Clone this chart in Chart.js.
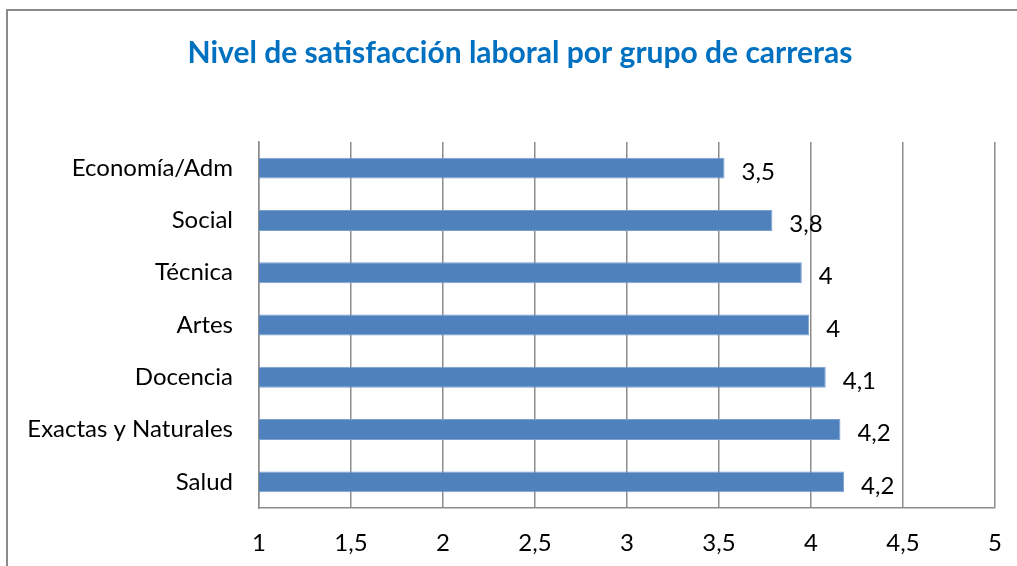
<!DOCTYPE html>
<html><head><meta charset="utf-8">
<script src="https://cdn.jsdelivr.net/npm/chart.js@4/dist/chart.umd.min.js"></script>
<style>
html,body{margin:0;padding:0;background:#fff;overflow:hidden;width:1017px;height:566px;}
#frame{position:absolute;left:6px;top:9px;width:1100px;height:700px;border:2px solid #8a8a8a;box-sizing:border-box;}
#wrap{position:absolute;left:0;top:0;width:1017px;height:566px;}
</style></head>
<body>
<div id="frame"></div>
<div id="wrap"><canvas id="c" width="1017" height="566"></canvas></div>
<script>
const categories = ["Economía/Adm","Social","Técnica","Artes","Docencia","Exactas y Naturales","Salud"];
const values = [3.53, 3.79, 3.95, 3.99, 4.08, 4.16, 4.18];
const valueLabels = ["3,5","3,8","4","4","4,1","4,2","4,2"];
const tickValues = [1,1.5,2,2.5,3,3.5,4,4.5,5];
const titleText = "Nivel de satisfacción laboral por grupo de carreras";

const labelPlugin = {
  id:'valLabels',
  afterDatasetsDraw(chart){
    const ctx = chart.ctx;
    const meta = chart.getDatasetMeta(0);
    ctx.save();
    ctx.font = '24px Lato';
    ctx.fillStyle = '#000';
    ctx.textAlign = 'left';
    ctx.textBaseline = 'middle';
    meta.data.forEach((bar,i)=>{
      ctx.fillText(valueLabels[i], bar.x + 17, bar.y + 4);
    });
    ctx.restore();
  }
};
const titlePlugin = {
  id:'offTitle',
  afterDraw(chart){
    const ctx = chart.ctx;
    ctx.save();
    ctx.font = 'bold 30px Lato';
    ctx.fillStyle = '#0070C0';
    ctx.textAlign = 'center';
    ctx.textBaseline = 'middle';
    ctx.fillText(titleText, 520, 53);
    ctx.restore();
  }
};

new Chart(document.getElementById('c'), {
  type:'bar',
  data:{labels:categories, datasets:[{data:values, backgroundColor:'#4F81BD', borderColor:'#7aa0d0', borderWidth:1, borderSkipped:'left', barPercentage:0.8, categoryPercentage:0.5}]},
  plugins:[labelPlugin, titlePlugin],
  options:{
    indexAxis:'y', responsive:false, animation:false, devicePixelRatio:1,
    layout:{padding:{left:0,right:22,top:142,bottom:0}},
    plugins:{ legend:{display:false}, tooltip:{enabled:false}, title:{display:false} },
    scales:{
      x:{min:1,max:5,
        afterBuildTicks(s){ s.ticks = tickValues.map(v=>({value:v})); },
        afterFit(s){ s.height = 58; s.paddingRight = 0; s.paddingLeft = 0; },
        grid:{color:'#8c8c8c', lineWidth:1.5, drawTicks:false},
        border:{color:'#8c8c8c', width:1.5},
        ticks:{color:'#000', font:{family:'Lato', size:24}, padding:21, maxRotation:0,
          callback:(v)=>String(v).replace('.',',')}
      },
      y:{
        afterFit(s){ s.width = 259; s.paddingTop = 0; s.paddingBottom = 0; },
        grid:{display:false, drawTicks:false},
        border:{color:'#8c8c8c', width:1.5},
        ticks:{color:'#000', font:{family:'Lato', size:24}, padding:26}
      }
    }
  }
});
</script>
</body></html>
